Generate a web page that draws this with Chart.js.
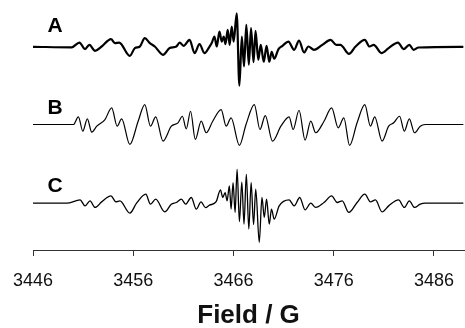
<!DOCTYPE html>
<html lang="en">
<head>
    <meta charset="UTF-8">
    <script src="https://cdn.jsdelivr.net/npm/chart.js"></script>
    <title>EPR spectra</title>
    <style>
        body { margin: 0; background: #fff; overflow: hidden; }
        #wrap { width: 465px; height: 328px; position: relative; }
    </style>
</head>
<body>
    <div id="wrap"><canvas id="myChart"></canvas></div>
    <script>
        // field (G) and relative intensity
        const fieldA = [3446.00, 3449.87, 3450.63, 3451.19, 3451.62, 3452.19, 3452.85, 3453.78, 3454.17, 3454.60,
            3455.66, 3456.16, 3456.66, 3457.15, 3457.65, 3458.15, 3458.97, 3459.63, 3460.30, 3460.63,
            3461.02, 3461.62, 3462.12, 3462.61, 3463.11, 3463.61, 3463.84, 3464.10, 3464.33, 3464.60,
            3464.83, 3465.03, 3465.20, 3465.42, 3465.62, 3465.82, 3466.02, 3466.32, 3466.59, 3466.83,
            3467.05, 3467.28, 3467.53, 3467.75, 3468.00, 3468.20, 3468.47, 3468.72, 3469.02, 3469.30,
            3469.57, 3469.81, 3470.06, 3470.49, 3470.89, 3471.48, 3472.05, 3472.54, 3473.04, 3473.47,
            3474.03, 3474.86, 3475.69, 3476.25, 3476.69, 3476.91, 3477.51, 3478.18, 3479.10, 3479.57,
            3479.99, 3480.76, 3481.48, 3482.41, 3482.97, 3483.54, 3483.96, 3484.46, 3488.93];
        const intensityA = [0, -0.5, 4.3, -2.3, 2, -4, 0.3, 7.7, 3.7, 4.3,
            -9, -1.3, 0.3, 8.7, 3.7, 0.3, -8, -1.3, 0.3, 4.3,
            1, 7, -6.3, 2.7, -6.3, 0.3, 4, 10.3, 0.3, 15.3,
            5.3, 10.3, 2.7, 17, 2, 20.3, 5.3, 33.7, -39, 10.3,
            -19.7, 22, -18, 18.7, -15.5, 16, -13, 2, -15, 1,
            -15, -5, -12, -2.3, 1, 5.3, -3, 6.3, -5.7, 0.3,
            -3, 2, 7, 2, 2, 0, -7, 0.3, 7, 0.3,
            2, -6.3, -1.3, 4.3, -2.3, 2, -3, -0.7, 0];

        const fieldB = [3446.00, 3450.03, 3450.53, 3450.97, 3451.42, 3451.86, 3452.36, 3453.18, 3453.85, 3454.40,
            3454.84, 3455.66, 3456.49, 3457.15, 3457.72, 3458.24, 3458.97, 3459.80, 3460.46, 3460.90,
            3461.29, 3461.72, 3462.19, 3462.78, 3463.28, 3463.93, 3464.77, 3465.27, 3465.76, 3466.59,
            3467.25, 3468.08, 3468.64, 3469.17, 3469.89, 3470.73, 3471.55, 3471.95, 3472.54, 3473.14,
            3473.71, 3474.20, 3475.03, 3475.79, 3476.45, 3477.01, 3477.58, 3478.33, 3479.10, 3479.66,
            3480.09, 3480.82, 3481.48, 3481.98, 3482.57, 3483.04, 3483.54, 3484.06, 3484.63, 3485.13,
            3488.93];
        const intensityB = [0, 0, 7.7, -6.7, 5.7, -7.7, -1.7, 5, 16.7, -1.7,
            5.7, -20, 3.3, 20, -1.7, 7.7, -16.7, -1.7, 1.7, 8.3,
            -4.3, 13.3, -15, 3.3, -8.3, 3.3, 15, -1.7, 6.7, -21,
            0, 20, -5, 9, -16.7, -1.7, 7.7, -5, 14.3, -15.7,
            3.3, -8.3, 3.3, 16.7, -3.3, 6.7, -21, 1.7, 20, -1.7,
            7.7, -16.7, -1.7, 1.7, 8.3, -6.7, 5.7, -8.3, -1.7, 0,
            0];

        const fieldC = [3446.00, 3449.38, 3450.70, 3451.19, 3451.69, 3452.19, 3452.85, 3453.78, 3454.27, 3454.67,
            3455.66, 3456.33, 3457.25, 3457.72, 3458.24, 3459.14, 3459.80, 3460.30, 3460.80, 3461.22,
            3461.79, 3462.29, 3462.76, 3463.21, 3463.61, 3464.27, 3464.70, 3464.93, 3465.17, 3465.36,
            3465.59, 3465.76, 3465.96, 3466.16, 3466.36, 3466.59, 3466.83, 3467.05, 3467.28, 3467.53,
            3467.76, 3468.00, 3468.22, 3468.57, 3468.84, 3469.07, 3469.30, 3469.57, 3469.79, 3470.06,
            3470.56, 3471.55, 3472.05, 3472.61, 3473.14, 3473.71, 3474.20, 3475.03, 3475.79, 3476.35,
            3476.84, 3477.51, 3478.33, 3479.10, 3479.66, 3480.16, 3480.82, 3481.48, 3482.47, 3483.04,
            3483.54, 3484.06, 3484.63, 3485.13, 3488.93];
        const intensityC = [0, 0, 3.3, -2.7, 2.3, -4.3, 1.3, 7.3, 1.3, 2.3,
            -10, 0, 9, -1, 4, -8.7, -1, 0.7, 4, -1,
            5.7, -6, 1.3, -4.5, -2, 1.5, 13.3, 5.7, 10.7, 2.3,
            17.3, -6, 20.7, -9.3, 34, -18.5, 21, -21, 29, -26,
            20.7, -21.5, 14, -39.3, 5.7, -14.3, 4, -21, -6, -16,
            -2.7, 3.3, -2.7, 5.7, -6.7, 0, -4.3, 0.7, 7.3, 0.7,
            2.3, -9.3, 0.7, 9, 1.3, 3.3, -8.7, -2.7, 3.3, -4.3,
            2.3, -4.3, -1, 0, 0];

        const traceNames = ['A', 'B', 'C'];
        const traceOffsets = [204, 126, 47];   // vertical stacking of the traces
        const labelRise = [21, 16, 17];        // letter height above each baseline
        const xTicks = [3446, 3456, 3466, 3476, 3486];

        const fields = [fieldA, fieldB, fieldC];
        const intensities = [intensityA, intensityB, intensityC];
        const widths = [2.2, 1.2, 1.3];

        const datasets = traceNames.map((name, i) => ({
            label: name,
            data: fields[i].map((f, j) => ({ x: f, y: intensities[i][j] + traceOffsets[i] })),
            borderColor: '#000',
            borderWidth: widths[i],
            pointRadius: 0,
            cubicInterpolationMode: 'monotone',
            fill: false
        }));

        // letters A, B, C to the left of each trace
        const traceLabels = {
            id: 'traceLabels',
            afterDatasetsDraw(chart) {
                const ctx = chart.ctx;
                const xs = chart.scales.x, ys = chart.scales.y;
                ctx.save();
                ctx.font = 'bold 21px "Liberation Sans", Arial, sans-serif';
                ctx.fillStyle = '#000';
                ctx.textAlign = 'center';
                ctx.textBaseline = 'middle';
                traceNames.forEach((name, i) => {
                    ctx.fillText(name, xs.getPixelForValue(3448.2), ys.getPixelForValue(traceOffsets[i] + labelRise[i]));
                });
                ctx.restore();
            }
        };

        const ctx = document.getElementById('myChart').getContext('2d');
        const myChart = new Chart(ctx, {
            type: 'line',
            data: { datasets: datasets },
            plugins: [traceLabels],
            options: {
                responsive: true,
                maintainAspectRatio: false,
                animation: false,
                layout: { padding: { left: 33, right: 0, top: 0, bottom: 0 } },
                plugins: { legend: { display: false }, tooltip: { enabled: false } },
                scales: {
                    x: {
                        type: 'linear',
                        min: 3446,
                        max: 3489,
                        afterBuildTicks: axis => { axis.ticks = xTicks.map(v => ({ value: v })); },
                        grid: { drawOnChartArea: false, drawTicks: true, tickLength: 6, color: '#333' },
                        border: { display: true, color: '#333', width: 1 },
                        ticks: {
                            color: '#111',
                            padding: 11,
                            maxRotation: 0,
                            callback: v => String(v),
                            font: { family: '"Liberation Sans", Arial, sans-serif', size: 18, lineHeight: 1.6 }
                        },
                        title: {
                            display: true,
                            text: 'Field / G',
                            color: '#111',
                            padding: { top: -7, bottom: -3 },
                            font: { family: '"Liberation Sans", Arial, sans-serif', size: 26, weight: 'bold' }
                        }
                    },
                    y: { display: false, min: 0, max: 251 }
                }
            }
        });
    </script>
</body>
</html>
